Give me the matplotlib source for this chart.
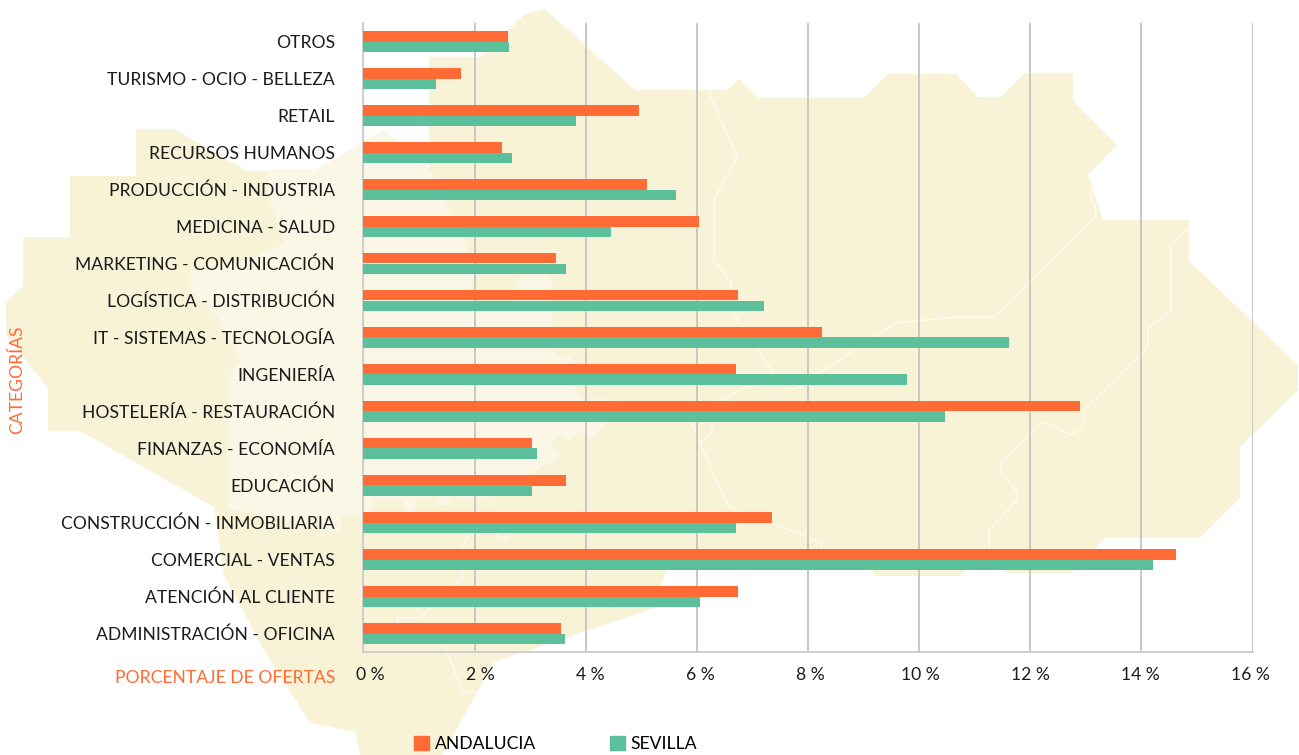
import numpy as np
import matplotlib
matplotlib.use("Agg")
import matplotlib.pyplot as plt
from matplotlib.patches import Patch, Polygon
from matplotlib.transforms import ScaledTranslation

# Datos del grafico (de abajo hacia arriba)
categorias = [
    "ADMINISTRACIÓN - OFICINA", "ATENCIÓN AL CLIENTE", "COMERCIAL - VENTAS",
    "CONSTRUCCIÓN - INMOBILIARIA", "EDUCACIÓN", "FINANZAS - ECONOMÍA",
    "HOSTELERÍA - RESTAURACIÓN", "INGENIERÍA", "IT - SISTEMAS - TECNOLOGÍA",
    "LOGÍSTICA - DISTRIBUCIÓN", "MARKETING - COMUNICACIÓN", "MEDICINA - SALUD",
    "PRODUCCIÓN - INDUSTRIA", "RECURSOS HUMANOS", "RETAIL",
    "TURISMO - OCIO - BELLEZA", "OTROS",
]
andalucia = [3.55, 6.75, 14.62, 7.36, 3.64, 3.03, 12.89, 6.70, 8.25, 6.74, 3.46, 6.04, 5.10, 2.49, 4.96, 1.75, 2.61]
sevilla = [3.62, 6.05, 14.21, 6.71, 3.03, 3.12, 10.47, 9.78, 11.62, 7.21, 3.64, 4.45, 5.63, 2.67, 3.82, 1.30, 2.62]
ticksX = [0, 2, 4, 6, 8, 10, 12, 14, 16]
ticksXLabels = ["0 %", "2 %", "4 %", "6 %", "8 %", "10 %", "12 %", "14 %", "16 %"]

# Mapa de fondo, en pixeles de la imagen
mapaContorno = [
    (545, 9), (635, 90), (727, 90), (739, 79), (759, 98), (864, 98), (888, 74), (956, 74),
    (978, 97), (1001, 97), (1025, 73), (1073, 73), (1073, 101), (1117, 145), (1088, 175),
    (1103, 220), (1189, 220), (1189, 261), (1298, 365), (1298, 390), (1240, 447), (1240, 498),
    (1200, 538), (1105, 538), (1071, 573), (1008, 573), (1004, 570), (965, 570), (960, 576),
    (876, 576), (871, 570), (666, 570), (654, 608), (494, 662), (442, 755), (360, 755),
    (355, 732), (310, 723), (261, 645), (224, 575), (214, 507), (80, 431), (48, 431),
    (48, 388), (6, 335), (6, 303), (23, 286), (23, 237), (70, 237), (70, 176), (136, 176),
    (136, 129), (174, 129), (247, 171), (316, 171), (384, 130), (429, 168), (429, 57),
    (481, 57), (525, 14),
]
mapaSevilla = [
    (267, 170), (316, 170), (384, 130), (430, 170), (467, 248), (478, 275), (467, 292), (517, 292),
    (517, 280), (522, 275), (547, 275), (552, 280), (552, 350), (560, 356), (570, 357), (575, 362),
    (575, 390), (580, 399), (613, 399), (607, 423), (590, 439), (580, 431), (569, 441),
    (559, 434), (551, 444), (561, 456), (528, 475), (490, 498), (450, 498), (450, 505),
    (438, 505), (438, 498), (415, 498), (415, 515), (403, 515), (403, 499), (373, 499),
    (373, 515), (342, 516), (340, 533), (227, 508), (227, 378), (240, 362), (220, 320),
    (191, 290), (191, 270), (250, 260), (267, 250), (283, 245), (284, 240), (268, 200),
]
mapaLineas = [
    [(708, 90), (737, 157), (714, 200), (714, 260), (731, 282), (733, 312), (768, 365), (783, 387),
     (792, 390), (805, 385)],
    [(1092, 188), (1090, 197), (1096, 210), (1096, 217), (994, 317), (955, 317), (895, 323),
     (820, 373), (743, 388), (730, 396), (717, 402)],
    [(692, 422), (700, 443), (712, 433), (712, 423)],
    [(700, 443), (725, 500), (730, 507), (820, 542), (822, 550)],
    [(1189, 227), (1171, 245), (1171, 310), (1160, 320), (1148, 328), (1148, 347), (1084, 410),
     (1083, 427), (1071, 435), (1061, 430), (1046, 422), (1038, 425), (1003, 460), (1000, 470),
     (1017, 492), (1017, 500), (989, 530), (989, 550)],
    [(477, 529), (469, 535), (463, 548), (462, 577), (420, 618), (397, 618), (397, 630)],
    [(445, 645), (462, 692), (477, 692)],
    [(473, 533), (494, 533), (504, 540), (512, 531)],
]

colorNaranja = "#FF6B35"
colorVerde = "#5BC09B"
colorTexto = "#1C1C1C"
fuente = "Lato"
tamTexto = 12.65

plt.rcParams["font.family"] = [fuente, "DejaVu Sans"]

W, H = 1299, 755
fig = plt.figure(figsize=(W / 100, H / 100), dpi=100)

# Fondo: mapa
axMapa = fig.add_axes([0, 0, 1, 1])
axMapa.set_xlim(0, W)
axMapa.set_ylim(H, 0)
axMapa.axis("off")
axMapa.add_patch(Polygon(mapaContorno, closed=True, facecolor="#F8F2D6", edgecolor="none"))
axMapa.add_patch(Polygon(mapaSevilla, closed=True, facecolor="#FBF7E6", edgecolor="none"))
for linea in mapaLineas:
    xs, ys = zip(*linea)
    axMapa.plot(xs, ys, color="#FDFBF0", lw=1.0)

# Barras
left, right, top, bottom = 363.4, 1252.5, 23, 652
ax = fig.add_axes([left / W, 1 - bottom / H, (right - left) / W, (bottom - top) / H])
ax.patch.set_alpha(0)

y = np.arange(len(categorias))
alto = 0.283
ax.barh(y + alto / 2, andalucia, height=alto, color=colorNaranja, zorder=3)
ax.barh(y - alto / 2, sevilla, height=alto, color=colorVerde, zorder=3)

ax.set_xlim(0, 16)
ax.set_ylim(-0.5, len(categorias) - 0.5)
ax.grid(axis="x", color="#C4C4C4", lw=1.3, zorder=1)
ax.set_axisbelow(True)
for s in ["top", "right"]:
    ax.spines[s].set_visible(False)
for s in ["left", "bottom"]:
    ax.spines[s].set_color("#CCCCCC")
    ax.spines[s].set_linewidth(1.3)

ax.set_yticks(y)
ax.set_yticklabels(categorias, fontsize=tamTexto, color=colorTexto)
ax.set_xticks(ticksX)
ax.set_xticklabels(ticksXLabels, fontsize=tamTexto, color=colorTexto)
ax.tick_params(axis="y", length=0, pad=20.5)
ax.tick_params(axis="x", length=0, pad=10.5)

# Las etiquetas del eje x no caen justo bajo su linea
for i, lab in enumerate(ax.get_xticklabels()):
    dx = (370 + 110 * i - (left + (right - left) * ticksX[i] / 16)) * 0.72
    lab.set_transform(lab.get_transform() + ScaledTranslation(dx / 72, 0, fig.dpi_scale_trans))

fig.text(335 / W, 1 - 678 / H, "PORCENTAJE DE OFERTAS", ha="right", va="center",
         fontsize=tamTexto, color=colorNaranja)
fig.text(17 / W, 1 - 380 / H, "CATEGORÍAS", ha="center", va="center", rotation=90,
         fontsize=tamTexto, color=colorNaranja)

# Leyenda
handles = [Patch(color=colorNaranja, label="ANDALUCIA"), Patch(color=colorVerde, label="SEVILLA")]
fig.legend(handles=handles, ncol=2, frameon=False, fontsize=tamTexto, loc="lower left",
           bbox_to_anchor=(414 / W, 1 - 752 / H), borderaxespad=0, borderpad=0,
           handlelength=0.85, handleheight=0.85, handletextpad=0.34, columnspacing=4.19)

fig.savefig("out.png", dpi=100)
